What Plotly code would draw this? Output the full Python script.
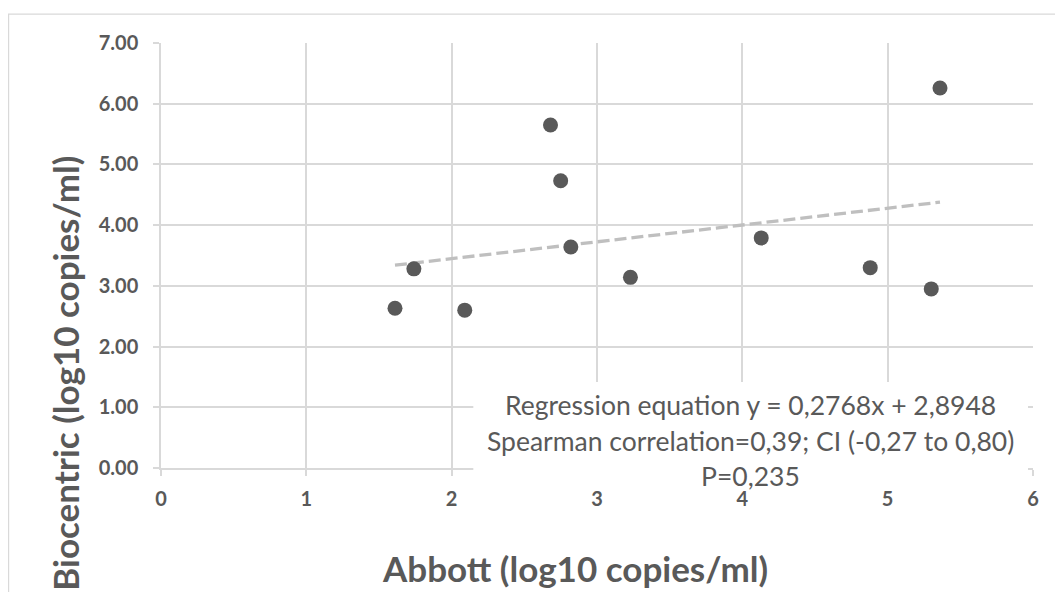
import plotly.graph_objects as go

abbott = [1.61, 1.74, 2.09, 2.68, 2.75, 2.82, 3.23, 4.13, 4.88, 5.30, 5.36]
biocentric = [2.63, 3.28, 2.60, 5.65, 4.73, 3.64, 3.14, 3.79, 3.30, 2.95, 6.26]
slope = 0.2768
intercept = 2.8948
x_ticks = [0, 1, 2, 3, 4, 5, 6]
y_ticks = [0, 1, 2, 3, 4, 5, 6, 7]
stat_lines = ["Regression equation y = 0,2768x + 2,8948",
              "Spearman correlation=0,39; CI (-0,27 to 0,80)",
              "P=0,235"]

FONT = "Lato"
GRAY = "#595959"
GRID = "#d9d9d9"

W, H = 1055, 592
L, R, T, B = 160.5, 1033, 42.5, 468


def px(xp):
    return (xp - L) / (R - L)


def py(yp):
    return (B - yp) / (B - T)


trend_x = [min(abbott), max(abbott)]
trend_y = [slope * v + intercept for v in trend_x]

fig = go.Figure()
fig.add_trace(go.Scatter(x=trend_x, y=trend_y, mode="lines",
                         line=dict(color="#bfbfbf", width=3.3, dash="12px,5px"),
                         showlegend=False, hoverinfo="skip"))
fig.add_trace(go.Scatter(x=abbott, y=biocentric, mode="markers",
                         marker=dict(color=GRAY, size=15),
                         showlegend=False))

axis_common = dict(showgrid=True, gridcolor=GRID, gridwidth=1.5,
                   showline=True, linecolor=GRID, linewidth=1.5,
                   ticks="outside", ticklen=6, tickcolor=GRID, tickwidth=1.5,
                   zeroline=False,
                   tickfont=dict(family=FONT, size=20, color=GRAY, weight="bold"))

fig.update_xaxes(range=[0, 6], tickvals=x_ticks, ticktext=[str(v) for v in x_ticks],
                 ticklabelstandoff=6, **axis_common)
fig.update_yaxes(range=[0, 7], tickvals=y_ticks, ticktext=[f"{v:.2f}" for v in y_ticks],
                 ticklabelstandoff=11, **axis_common)

shapes = [
    dict(type="rect", xref="paper", yref="paper",
         x0=px(473), x1=px(1028), y0=py(482), y1=py(382),
         fillcolor="white", line=dict(width=0), layer="above"),
    dict(type="rect", xref="paper", yref="paper",
         x0=px(8), x1=px(1080), y0=py(620), y1=py(13.5),
         fillcolor="rgba(0,0,0,0)", line=dict(color=GRID, width=1.2), layer="below"),
]

annotations = []
for txt, yc in zip(stat_lines, [405, 441, 476]):
    annotations.append(dict(text=txt, xref="paper", yref="paper", x=px(750), y=py(yc),
                            xanchor="center", yanchor="middle", showarrow=False,
                            font=dict(family=FONT, size=26.5, color=GRAY)))
annotations.append(dict(text="Abbott (log10 copies/ml)", xref="paper", yref="paper",
                        x=px(575), y=py(568), xanchor="center", yanchor="middle",
                        showarrow=False,
                        font=dict(family=FONT, size=35, color=GRAY, weight="bold")))
annotations.append(dict(text="Biocentric (log10 copies/ml)", xref="paper", yref="paper",
                        x=px(65), y=py(373), xanchor="center", yanchor="middle",
                        textangle=-90, showarrow=False,
                        font=dict(family=FONT, size=35, color=GRAY, weight="bold")))

fig.update_layout(width=W, height=H, autosize=False,
                  margin=dict(l=L, r=W - R, t=T, b=H - B),
                  paper_bgcolor="white", plot_bgcolor="white",
                  shapes=shapes, annotations=annotations, showlegend=False)

fig.write_html("out.html", config={"displayModeBar": False},
               post_script="document.body.style.margin='0px';document.body.style.overflow='hidden';")
